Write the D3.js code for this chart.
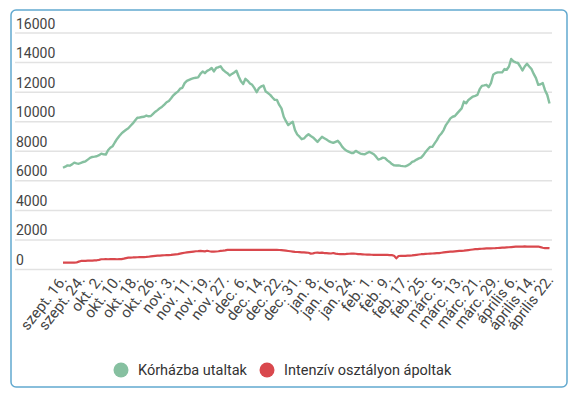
<!DOCTYPE html>
<html>
<head>
<meta charset="utf-8">
<script src="https://cdn.jsdelivr.net/npm/d3@7"></script>
<style>
  body { margin: 0; background: #fff; font-family: Roboto, "Noto Sans", sans-serif; }
  .axis text { fill: #444; font-family: Roboto, sans-serif; }
  .legendText { fill: #333; font-size: 14.5px; font-family: Roboto, sans-serif; }
</style>
</head>
<body>
<div class="chart"></div>
<script>
var tickLabels = ["szept. 16.", "szept. 24.", "okt. 2.", "okt. 10.", "okt. 18.", "okt. 26.",
  "nov. 3.", "nov. 11.", "nov. 19.", "nov. 27.", "dec. 6.", "dec. 14.", "dec. 22.", "dec. 31.",
  "jan. 8.", "jan. 16.", "jan. 24.", "feb. 1.", "feb. 9.", "feb. 17.", "feb. 25.",
  "márc. 5.", "márc. 13.", "márc. 21.", "márc. 29.", "április 6.", "április 14.", "április 22."];

var yTicks = [0, 2000, 4000, 6000, 8000, 10000, 12000, 14000, 16000];

var seriesNames = ["Kórházba utaltak", "Intenzív osztályon ápoltak"];
var seriesColors = ["#86c0a0", "#d9484d"];

// daily values, one per day (tick every 8th day)
var hospital = [
  6850, 6920, 7010, 6990, 7080, 7195, 7150, 7120, 7180, 7240,
  7285, 7400, 7520, 7580, 7600, 7625, 7700, 7806, 7760, 7740,
  8034, 8200, 8300, 8558, 8800, 9000, 9170, 9300, 9420, 9520,
  9690, 9850, 10050, 10235, 10250, 10280, 10300, 10380, 10330, 10350,
  10500, 10640, 10750, 10880, 10980, 11120, 11280, 11370, 11550, 11750,
  11890, 12000, 12200, 12260, 12575, 12730, 12800, 12860, 12910, 12940,
  12960, 13200, 13365, 13250, 13400, 13480, 13600, 13365, 13600, 13650,
  13710, 13480, 13350, 13250, 13090, 13200, 13300, 13410, 13025, 12700,
  12510, 12870, 12730, 12550, 12460, 12235, 11960, 12235, 12350, 12415,
  12005, 11900, 11780, 11600, 11440, 11440, 11100, 10870, 10300, 10000,
  9736, 9850, 9960, 9396, 9100, 8950, 8780, 8830, 9000, 9120,
  9000, 8900, 8750, 8600, 8780, 8940, 8850, 8760, 8650, 8580,
  8530, 8600, 8670, 8500, 8260, 8100, 7990, 7920, 7850, 7850,
  7990, 7900, 7810, 7780, 7760, 7850, 7920, 7850, 7760, 7600,
  7400, 7450, 7535, 7500, 7350, 7240, 7100, 7013, 7000, 7013,
  6980, 6960, 6945, 7013, 7100, 7240, 7300, 7400, 7480, 7535,
  7700, 7920, 8100, 8260, 8260, 8500, 8715, 9000, 9170, 9396,
  9736, 9950, 10190, 10300, 10350, 10530, 10700, 10870, 11325, 11210,
  11440, 11550, 11665, 11720, 11780, 12165, 12390, 12420, 12460, 12300,
  12575, 13140, 13250, 13300, 13300, 13300, 13525, 13480, 13700, 14210,
  14050, 13980, 13935, 13700, 13435, 13700, 13890, 13700, 13525, 13200,
  12910, 12460, 12500, 12575, 12100, 11780, 11200
];

var icu = [
  430, 430, 435, 430, 440, 435, 440, 500,
  545, 550, 555, 560, 565, 570, 580, 590,
  620, 660, 660, 665, 660, 665, 670, 665, 660, 665, 670, 700, 740,
  770, 775, 780, 790, 795, 800, 805, 810, 815,
  830, 850, 870, 885, 900, 910, 920, 930, 940, 945, 950,
  970, 990, 1010, 1040, 1070, 1100, 1120, 1140, 1160, 1180,
  1200, 1210, 1225, 1210, 1190, 1235, 1200, 1180, 1180, 1185, 1200, 1225, 1240, 1260, 1290,
  1295, 1300, 1300, 1300, 1300, 1300, 1300, 1300, 1300, 1300, 1300, 1300,
  1300, 1300, 1300, 1295, 1295, 1290, 1290, 1290, 1290, 1290, 1285, 1280,
  1260, 1240, 1220, 1200, 1180, 1160, 1150, 1140, 1130, 1120, 1110, 1100, 1040,
  1060, 1100, 1110, 1090, 1110, 1080, 1070, 1060, 1050, 1080, 1040, 1020, 1010, 1000, 1000,
  1020, 1030, 1040, 1050, 1030, 1010, 1000, 990, 980, 975,
  970, 965, 960, 960, 955, 955, 950, 950, 950, 945,
  940, 900, 720, 880, 885, 885, 885,
  900, 910, 920, 940, 960, 980, 1000, 1010, 1020, 1030, 1040, 1050, 1060, 1070,
  1080, 1100, 1120, 1140, 1160, 1170, 1180, 1195, 1210, 1220, 1225,
  1240, 1260, 1280, 1300, 1320, 1340, 1350, 1360, 1370, 1380, 1390, 1395, 1400, 1405, 1410,
  1420, 1430, 1440, 1450, 1460, 1470, 1485, 1500,
  1510, 1520, 1515, 1520, 1525, 1520, 1520, 1515, 1520, 1520, 1520,
  1480, 1440, 1410, 1420, 1410
];

var svgWidth = 575;
var svgHeight = 395;

var svg = d3.select(".chart")
  .append("svg")
  .attr("width", svgWidth)
  .attr("height", svgHeight);

// frame
svg.append("rect")
  .attr("x", 11)
  .attr("y", 10)
  .attr("width", 556)
  .attr("height", 377)
  .attr("rx", 5)
  .attr("fill", "none")
  .attr("stroke", "#62a9cf")
  .attr("stroke-width", 1.5);

var gridLeft = 15, gridRight = 552;

var xScale = d3.scaleLinear()
  .domain([0, hospital.length - 1])
  .range([63, 549.5]);

var yScale = d3.scaleLinear()
  .domain([0, 16000])
  .range([269, 32.5]);

// y grid + labels
var yAxis = d3.axisRight(yScale)
  .tickValues(yTicks)
  .tickSize(gridRight - gridLeft)
  .tickFormat(d3.format("d"));

var yG = svg.append("g")
  .attr("class", "axis")
  .attr("transform", "translate(" + gridLeft + ",0)")
  .call(yAxis);
yG.select(".domain").remove();
yG.selectAll(".tick line").attr("stroke", "#e2e2e2").attr("stroke-width", 1.5);
yG.selectAll(".tick text")
  .attr("x", 1)
  .attr("dy", -4.5)
  .attr("text-anchor", "start")
  .style("font-size", "14px");

// x axis labels
var tickIdx = tickLabels.map(function(d, i) { return i * 8; });
var xAxis = d3.axisBottom(xScale)
  .tickValues(tickIdx)
  .tickSize(0)
  .tickFormat(function(d) { return tickLabels[d / 8]; });

var xG = svg.append("g")
  .attr("class", "axis")
  .attr("transform", "translate(0,277)")
  .call(xAxis);
xG.select(".domain").remove();
xG.selectAll(".tick text")
  .attr("y", 0)
  .attr("dy", "0.35em")
  .attr("text-anchor", "end")
  .attr("transform", "rotate(-52)")
  .style("font-size", "15px");

// lines
var line = d3.line()
  .x(function(d, i) { return xScale(i); })
  .y(function(d) { return yScale(d); });

svg.append("path")
  .datum(icu)
  .attr("d", line)
  .attr("fill", "none")
  .attr("stroke", seriesColors[1])
  .attr("stroke-width", 2.2)
  .attr("stroke-linejoin", "round");

svg.append("path")
  .datum(hospital)
  .attr("d", line)
  .attr("fill", "none")
  .attr("stroke", seriesColors[0])
  .attr("stroke-width", 2.4)
  .attr("stroke-linejoin", "round");

// legend
var legendX = [121, 267];
var legend = svg.selectAll(".legendItem")
  .data(seriesNames)
  .enter().append("g")
  .attr("class", "legendItem")
  .attr("transform", function(d, i) { return "translate(" + legendX[i] + ",370)"; });

legend.append("circle")
  .attr("r", 7.5)
  .attr("fill", function(d, i) { return seriesColors[i]; });

legend.append("text")
  .attr("class", "legendText")
  .attr("x", 17)
  .attr("dy", "0.35em")
  .text(function(d) { return d; });
</script>
</body>
</html>
